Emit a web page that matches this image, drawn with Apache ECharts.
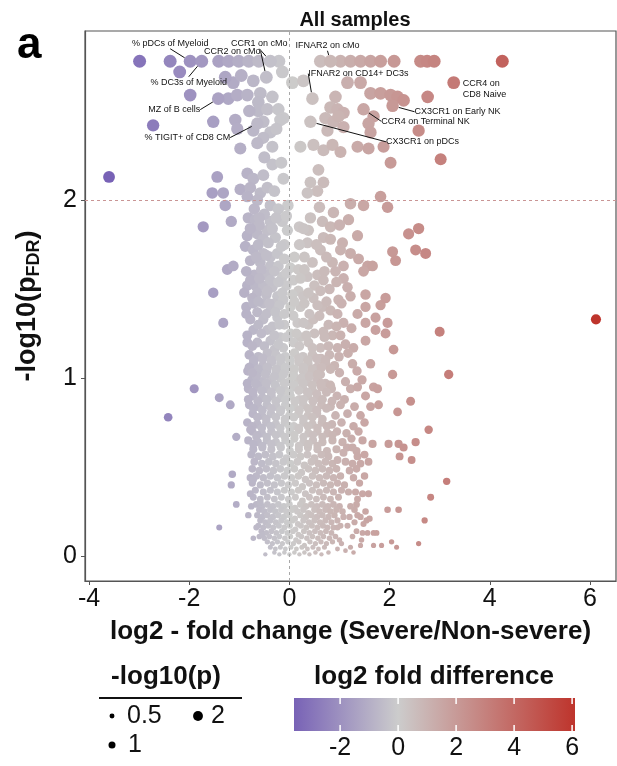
<!DOCTYPE html>
<html><head><meta charset="utf-8">
<script src="https://cdn.jsdelivr.net/npm/echarts@6/dist/echarts.min.js"></script>
<style>html,body{margin:0;padding:0;background:#fff}#c{width:617px;height:766px}</style>
</head><body><div id="c"></div>
<script>
// ---------------- DATA (log2 fold change, -log10 pFDR) ----------------
const topRow = [[-2.99,2.78],[-2.38,2.78],[-1.41,2.78],[-1.21,2.78],[-1.01,2.78],[-0.81,2.78],[-0.61,2.78],[-0.21,2.78],
  [0.62,2.78],[1.02,2.78],[1.22,2.78],[1.42,2.78],[1.62,2.78],[1.82,2.78],[2.09,2.78],[2.62,2.78],[2.75,2.78],[2.89,2.78],[4.25,2.78]];

const upperPoints = [[-2.19,2.72],[-0.14,2.72],[-1.12,2.66],[0.06,2.66],[0.28,2.67],[1.16,2.66],[1.42,2.66],
  [-1.28,2.69],[-0.96,2.7],[-0.72,2.67],
  [-1.98,2.59],[-1.22,2.57],[-1.04,2.59],[-0.84,2.59],[-0.58,2.6],[-0.34,2.58],[0.92,2.58],[1.62,2.6],[1.82,2.6],[2.02,2.59],[2.16,2.58],[2.28,2.56],[2.76,2.58],
  [-0.62,2.55],[-0.62,2.5],[-0.44,2.51],[-0.22,2.51],[-0.12,2.46],[0.82,2.52],[0.96,2.51],[1.08,2.49],[1.68,2.47],
  [-2.72,2.42],[-1.52,2.44],[-1.08,2.45],[-1.04,2.4],[-0.52,2.44],[-0.18,2.45],[-0.72,2.39],[-0.38,2.38],[0.72,2.46],[0.88,2.44],[0.98,2.47],[0.76,2.39],[1.08,2.41],[1.58,2.43],[1.62,2.38],[2.58,2.39],
  [-0.52,2.35],[-0.98,2.29],[-0.64,2.32],[-0.34,2.3],[0.22,2.3],[0.48,2.31],[0.68,2.28],[0.86,2.31],[1.02,2.27],[1.36,2.3],[1.58,2.29],[1.88,2.3],[3.02,2.23],
  [-0.84,2.15],[-0.72,2.12],[-0.52,2.14],[-0.34,2.2],[-0.16,2.21],[-1.44,2.13],[2.02,2.21],[0.58,2.17],
  [-0.98,2.06],[-0.78,2.07],[-0.58,2.04],[-0.44,2.07],[-0.38,1.97],[-0.64,2.0],[-0.84,2.02],[-0.03,1.97],[-1.54,2.04],[-1.32,2.04],[-1.28,1.97],
  [0.42,2.1],[0.68,2.1],[0.56,2.05],[0.36,2.04],[1.82,2.02],[1.96,1.96],[1.22,1.98],[1.48,1.97],
  [-0.26,2.4],[-0.8,2.5],[-0.3,2.05],[-0.12,2.12],[-0.5,2.24]];

const middlePoints = [[-1.72,1.85],[-1.16,1.88],[-0.82,1.9],[-0.68,1.89],[-0.38,1.88],[-0.14,1.88],[-0.84,1.8],[-0.64,1.81],[-0.44,1.83],[-0.52,1.78],[-0.28,1.79],
  [0.88,1.93],[1.18,1.89],[0.42,1.9],[0.38,1.83],[0.66,1.88],[0.82,1.85],[0.68,1.79],[0.82,1.78],[1.06,1.76],[1.36,1.8],[0.36,1.76],[2.38,1.81],[2.58,1.84],
  [-0.88,1.74],[-0.72,1.72],[-0.52,1.7],[-0.38,1.68],[-0.78,1.66],[-0.58,1.65],[-0.38,1.63],[-0.22,1.63],[0.02,1.62],[0.18,1.61],[-1.24,1.61],[-1.12,1.63],[-0.14,1.57],
  [1.02,1.72],[0.62,1.72],[0.46,1.65],[0.86,1.65],[1.08,1.63],[1.38,1.67],[1.56,1.63],[1.66,1.63],[1.48,1.6],[2.06,1.71],[2.12,1.66],[2.52,1.72],[2.72,1.7],[0.36,1.57],
  [-0.7,1.95],[-0.5,1.92],[-0.22,1.95],[-0.6,1.86],[-0.24,1.7],[-0.1,1.75],[-0.46,1.58],[-0.7,1.58],[0.1,1.68],[0.56,1.58],[0.92,1.6],[0.6,1.96],[1.0,1.86],[0.2,1.85],[0.54,1.75],[1.22,1.7],
  [-0.84,1.52],[-0.68,1.52],[-0.52,1.52],[-0.34,1.51],[-0.24,1.46],[-0.64,1.48],[-0.52,1.42],[-0.38,1.38],[-0.64,1.37],[-0.78,1.33],[-0.52,1.33],[-0.24,1.34],[-1.52,1.48],[-1.32,1.31],
  [0.18,1.49],[0.28,1.46],[0.16,1.31],[0.38,1.3],[0.02,1.4],[-0.84,1.2],[-0.64,1.2],[-0.38,1.21],[-0.18,1.23],[0.02,1.25],[-0.12,1.17],
  [1.08,1.56],[1.16,1.51],[1.22,1.46],[1.52,1.47],[1.52,1.4],[1.82,1.41],[1.92,1.45],[0.48,1.45],[0.66,1.4],[0.82,1.38],[0.22,1.4],[1.08,1.31],[1.52,1.31],[1.72,1.34],[1.96,1.31],
  [1.72,1.27],[1.92,1.25],[1.52,1.21],[2.08,1.16],[3.0,1.26],[0.48,1.33],[0.68,1.26],[0.22,1.23],[0.62,1.17],[0.96,1.17],[1.28,1.17],
  [-0.74,1.45],[-0.46,1.47],[-0.3,1.42],[-0.12,1.44],[-0.06,1.52],[-0.72,1.27],[-0.44,1.27],[-0.1,1.3],[-0.86,1.4],[0.08,1.2],[-0.3,1.16],[0.38,1.2],[0.5,1.25],[0.86,1.24],[1.24,1.28],[0.98,1.44],[0.8,1.5],[0.5,1.52],[1.36,1.36]];

const middleFill = [[-0.6,1.9],[-0.26,1.9],[-0.06,1.91],
  [-0.78,1.84],[-0.34,1.84],[-0.04,1.83],[0.28,1.84],
  [-0.62,1.75],[-0.42,1.76],[-0.16,1.74],[0.2,1.75],
  [-0.66,1.68],[-0.46,1.69],[-0.1,1.67],[0.3,1.68],[0.74,1.68],
  [-0.86,1.6],[-0.56,1.61],[-0.3,1.6],[-0.06,1.59],[0.3,1.61],[0.7,1.6],
  [-0.78,1.55],[-0.6,1.56],[-0.38,1.55],[-0.22,1.54],[0.08,1.55],[0.22,1.56],[0.68,1.55],[0.94,1.54],
  [-0.9,1.48],[-0.44,1.49],[-0.14,1.48],[0.06,1.47],[0.38,1.48],[0.62,1.49],
  [-0.72,1.42],[-0.62,1.43],[-0.4,1.42],[-0.2,1.41],[0.1,1.43],[0.3,1.42],[0.56,1.41],[0.74,1.43],[1.04,1.42],
  [-0.86,1.36],[-0.46,1.36],[-0.28,1.37],[-0.1,1.36],[0.08,1.35],[0.4,1.36],[0.6,1.35],[0.96,1.36],
  [-0.62,1.3],[-0.34,1.29],[-0.2,1.3],[0.28,1.31],[0.78,1.3],[0.94,1.29],
  [-0.84,1.24],[-0.56,1.25],[-0.3,1.24],[-0.06,1.23],[0.14,1.25],[0.34,1.24],[0.7,1.23],[1.02,1.24],
  [-0.74,1.18],[-0.5,1.18],[-0.22,1.19],[0.2,1.18],[0.46,1.17],[0.78,1.18],[1.12,1.19]];

const corePoints = [[-0.8,1.13],[-0.62,1.12],[-0.44,1.14],[-0.27,1.13],[-0.08,1.12],[0.1,1.14],[0.27,1.12],[0.46,1.13],[0.63,1.11],[0.8,1.13],[0.99,1.12],[1.17,1.14],
  [-0.72,1.08],[-0.53,1.07],[-0.35,1.09],[-0.17,1.08],[0.01,1.07],[0.19,1.09],[0.37,1.08],[0.55,1.06],[0.72,1.08],[0.9,1.07],[1.26,1.08],
  [-0.83,1.04],[-0.62,1.03],[-0.45,1.04],[-0.26,1.03],[-0.09,1.04],[0.08,1.02],[0.28,1.04],[0.45,1.03],[0.62,1.02],[1.0,1.03],[1.35,1.04],
  [-0.75,0.99],[-0.55,0.98],[-0.36,0.99],[-0.18,1.0],[0.0,0.98],[0.18,0.99],[0.36,0.98],[0.55,0.99],[0.72,0.97],[1.12,0.98],[1.45,0.99],
  [-0.82,0.94],[-0.64,0.95],[-0.46,0.94],[-0.27,0.95],[-0.09,0.93],[0.1,0.95],[0.27,0.94],[0.46,0.93],[0.64,0.95],[0.84,0.94],[1.22,0.94],[1.36,0.95],
  [-0.72,0.9],[-0.54,0.89],[-0.36,0.9],[-0.17,0.89],[0.02,0.9],[0.2,0.88],[0.37,0.9],[0.56,0.89],[0.95,0.9],[1.1,0.88],[1.52,0.9],
  [-0.8,0.85],[-0.63,0.84],[-0.45,0.85],[-0.26,0.84],[-0.08,0.85],[0.1,0.84],[0.28,0.85],[0.46,0.83],[0.64,0.85],[0.82,0.84],[1.02,0.85],[1.3,0.84],
  [-0.73,0.8],[-0.55,0.79],[-0.37,0.8],[-0.18,0.81],[0.0,0.79],[0.18,0.8],[0.37,0.79],[0.55,0.8],[0.92,0.79],[1.16,0.8],[1.42,0.79],
  [-0.84,0.75],[-0.64,0.74],[-0.46,0.75],[-0.27,0.74],[-0.09,0.75],[0.09,0.73],[0.28,0.75],[0.46,0.74],[0.65,0.75],[0.85,0.74],[1.04,0.75],[1.28,0.73],[1.5,0.75],
  [-0.74,0.7],[-0.55,0.69],[-0.36,0.7],[-0.18,0.69],[0.01,0.7],[0.19,0.71],[0.38,0.69],[0.56,0.7],[0.76,0.69],[0.95,0.7],[1.14,0.69],[1.38,0.7],
  [-0.82,0.65],[-0.63,0.64],[-0.45,0.65],[-0.27,0.64],[-0.08,0.65],[0.1,0.66],[0.28,0.64],[0.47,0.65],[0.66,0.64],[0.86,0.65],[1.06,0.64],[1.24,0.66],[1.46,0.65],
  [-0.72,0.6],[-0.54,0.61],[-0.36,0.6],[-0.17,0.61],[0.01,0.59],[0.19,0.6],[0.37,0.61],[0.56,0.6],[0.75,0.59],[0.94,0.6],[1.15,0.61],[1.34,0.59]];

const coreFill = [[-0.71,1.1],[-0.53,1.11],[-0.36,1.1],[-0.18,1.11],[0.01,1.1],[0.19,1.11],[0.37,1.1],[0.55,1.11],[0.72,1.1],
  [-0.8,1.06],[-0.62,1.05],[-0.44,1.06],[-0.26,1.05],[-0.08,1.06],[0.1,1.05],[0.28,1.06],[0.46,1.05],[0.64,1.06],[0.82,1.05],
  [-0.66,1.01],[-0.48,1.02],[-0.3,1.01],[-0.12,1.02],[0.06,1.01],[0.24,1.0],[0.4,1.01],[0.56,1.02],
  [-0.84,0.97],[-0.64,0.96],[-0.46,0.97],[-0.28,0.96],[-0.1,0.97],[0.09,0.96],[0.27,0.97],[0.46,0.96],[0.63,0.97],[0.82,0.96],
  [-0.73,0.92],[-0.55,0.93],[-0.36,0.92],[-0.18,0.93],[0.0,0.92],[0.19,0.93],[0.36,0.92],[0.55,0.91],[0.74,0.92],
  [-0.82,0.88],[-0.63,0.87],[-0.45,0.88],[-0.27,0.87],[-0.08,0.88],[0.11,0.87],[0.28,0.88],[0.47,0.87],[0.66,0.88],[0.85,0.87],
  [-0.72,0.83],[-0.54,0.82],[-0.36,0.83],[-0.17,0.82],[0.01,0.83],[0.2,0.82],[0.37,0.83],[0.55,0.82],[0.74,0.83],
  [-0.64,0.78],[-0.46,0.77],[-0.27,0.78],[-0.09,0.77],[0.09,0.78],[0.28,0.77],[0.46,0.78],[0.66,0.77],
  [-0.74,0.73],[-0.55,0.72],[-0.37,0.73],[-0.18,0.72],[0.0,0.73],[0.19,0.72],[0.37,0.73],[0.56,0.72],[0.75,0.73],
  [-0.64,0.68],[-0.45,0.67],[-0.27,0.68],[-0.09,0.67],[0.1,0.68],[0.28,0.67],[0.47,0.68],[0.66,0.67],[0.86,0.68],
  [-0.72,0.63],[-0.54,0.62],[-0.36,0.63],[-0.18,0.62],[0.01,0.63],[0.19,0.62],[0.38,0.63],[0.56,0.62]];

const lowerPoints = [[-0.76,0.57],[-0.62,0.56],[-0.48,0.57],[-0.33,0.56],[-0.2,0.57],[-0.06,0.55],[0.08,0.57],[0.22,0.56],[0.36,0.57],[0.5,0.55],[0.64,0.57],[0.78,0.56],[1.36,0.56],[1.5,0.57],
  [-0.7,0.53],[-0.55,0.52],[-0.41,0.53],[-0.27,0.52],[-0.12,0.53],[0.02,0.52],[0.16,0.53],[0.3,0.51],[0.44,0.53],[0.58,0.52],[0.72,0.53],[0.86,0.52],[1.12,0.53],[1.42,0.52],
  [-0.74,0.49],[-0.6,0.48],[-0.46,0.49],[-0.32,0.48],[-0.18,0.49],[-0.04,0.48],[0.1,0.49],[0.24,0.47],[0.38,0.49],[0.52,0.48],[0.66,0.49],[0.8,0.48],[0.94,0.49],[1.2,0.48],[1.34,0.49],
  [-0.66,0.45],[-0.52,0.44],[-0.38,0.45],[-0.24,0.44],[-0.1,0.45],[0.04,0.44],[0.18,0.45],[0.32,0.43],[0.46,0.45],[0.6,0.44],[0.74,0.45],[0.88,0.44],[1.02,0.45],[1.28,0.44],[1.5,0.45],
  [-0.74,0.41],[-0.58,0.4],[-0.44,0.41],[-0.3,0.4],[-0.16,0.41],[-0.02,0.4],[0.12,0.41],[0.26,0.39],[0.4,0.41],[0.54,0.4],[0.68,0.41],[0.82,0.4],[0.96,0.41],[1.1,0.4],[1.4,0.41],
  [-0.68,0.37],[-0.52,0.36],[-0.38,0.37],[-0.24,0.36],[-0.1,0.37],[0.04,0.36],[0.18,0.37],[0.32,0.35],[0.46,0.37],[0.6,0.36],[0.74,0.37],[0.88,0.36],[1.04,0.37],[1.18,0.36],
  [-0.72,0.33],[-0.58,0.32],[-0.44,0.33],[-0.3,0.32],[-0.16,0.33],[-0.02,0.32],[0.12,0.33],[0.26,0.31],[0.4,0.33],[0.54,0.32],[0.68,0.33],[0.82,0.32],[0.98,0.33],[1.36,0.32]];

const bottomPoints = [[-0.66,0.29],[-0.55,0.28],[-0.44,0.29],[-0.33,0.28],[-0.22,0.29],[-0.11,0.28],[0.0,0.29],[0.11,0.27],[0.22,0.29],[0.33,0.28],[0.44,0.29],[0.55,0.28],[0.66,0.29],[0.77,0.28],[0.88,0.29],[1.0,0.28],[1.34,0.29],
  [-0.6,0.26],[-0.5,0.25],[-0.38,0.26],[-0.28,0.25],[-0.16,0.26],[-0.06,0.25],[0.06,0.26],[0.16,0.25],[0.28,0.26],[0.38,0.24],[0.5,0.26],[0.6,0.25],[0.72,0.26],[0.82,0.25],[0.94,0.26],[1.06,0.25],[1.3,0.26],[1.52,0.25],
  [-0.64,0.23],[-0.54,0.22],[-0.44,0.23],[-0.33,0.22],[-0.22,0.23],[-0.11,0.22],[0.0,0.23],[0.11,0.21],[0.22,0.23],[0.33,0.22],[0.44,0.23],[0.55,0.22],[0.66,0.23],[0.78,0.22],[0.9,0.23],[1.2,0.22],[1.36,0.23],
  [-0.58,0.2],[-0.48,0.19],[-0.38,0.2],[-0.27,0.19],[-0.16,0.2],[-0.05,0.19],[0.06,0.2],[0.17,0.18],[0.28,0.2],[0.39,0.19],[0.5,0.2],[0.61,0.19],[0.72,0.2],[0.84,0.19],[0.96,0.2],[1.3,0.19],[1.54,0.2],
  [-0.62,0.17],[-0.52,0.16],[-0.42,0.17],[-0.32,0.16],[-0.21,0.17],[-0.1,0.16],[0.01,0.17],[0.12,0.15],[0.23,0.17],[0.34,0.16],[0.45,0.17],[0.56,0.16],[0.67,0.17],[0.88,0.16],[1.02,0.17],
  [-0.56,0.14],[-0.46,0.13],[-0.36,0.14],[-0.26,0.13],[-0.15,0.14],[-0.04,0.13],[0.07,0.14],[0.18,0.12],[0.29,0.14],[0.4,0.13],[0.51,0.14],[0.62,0.13],[0.73,0.14],[0.84,0.13],[1.34,0.14],[1.56,0.13],
  [-0.6,0.11],[-0.5,0.1],[-0.4,0.11],[-0.3,0.1],[-0.2,0.11],[-0.09,0.1],[0.02,0.11],[0.13,0.09],[0.24,0.11],[0.35,0.1],[0.46,0.11],[0.57,0.1],[0.68,0.11],[0.8,0.1],[0.92,0.11],[1.0,0.09],
  [-0.44,0.08],[-0.34,0.07],[-0.24,0.08],[-0.14,0.07],[-0.03,0.08],[0.08,0.07],[0.19,0.08],[0.3,0.06],[0.41,0.08],[0.52,0.07],[0.63,0.08],[0.74,0.07],[0.86,0.08],[1.04,0.07],
  [-0.38,0.05],[-0.28,0.04],[-0.18,0.05],[-0.08,0.04],[0.03,0.05],[0.14,0.04],[0.25,0.05],[0.36,0.04],[0.47,0.05],[0.58,0.04],[0.7,0.05],[0.96,0.04],
  [-0.3,0.02],[-0.2,0.01],[-0.1,0.02],[0.0,0.01],[0.1,0.02],[0.2,0.01],[0.3,0.02],[0.4,0.01],[0.52,0.02],[0.64,0.01],[0.78,0.02]];

const outliers = [[-3.6,2.13],[6.12,1.33],
  [-1.9,0.94],[-2.42,0.78],[-1.4,0.89],[-1.18,0.85],[-1.06,0.67],[-0.74,1.03],[-0.68,0.97],[-0.78,0.71],[-0.66,0.67],
  [2.06,1.02],[3.18,1.02],[1.62,1.08],[1.68,0.95],[1.76,0.94],[1.62,0.84],[1.78,0.85],[2.16,0.81],[2.42,0.87],[2.78,0.71],
  [1.66,0.63],[1.98,0.63],[2.18,0.63],[2.28,0.61],[2.52,0.64],[2.2,0.56],[2.44,0.54],[1.58,0.53],[1.26,0.61],[1.26,0.52],[1.08,0.58],[0.96,0.54],
  [-1.14,0.46],[-1.16,0.4],[-1.06,0.29],[-1.4,0.16],[-0.78,0.44],[-0.72,0.43],[-0.78,0.35],[-0.58,0.3],[-0.82,0.23],[-0.76,0.28],[-0.66,0.16],[-0.54,0.12],[-0.72,0.1],[-0.48,0.01],
  [3.14,0.42],[2.82,0.33],[2.7,0.2],[2.58,0.07],[1.32,0.36],[1.46,0.35],[1.58,0.35],[1.22,0.28],[1.96,0.26],[2.18,0.26],[1.42,0.22],[1.48,0.18],[1.6,0.21],[1.68,0.13],[1.46,0.13],
  [1.08,0.22],[1.16,0.17],[1.26,0.11],[0.96,0.16],[0.76,0.16],[1.68,0.06],[1.84,0.06],[2.04,0.08],[2.14,0.05],[1.22,0.05],[1.12,0.03],[1.28,0.02],[1.42,0.06],[1.74,0.13],[1.44,0.09]];

const annotatedNames = ['% pDCs of Myeloid','% DC3s of Myeloid','CCR2 on cMo','CCR1 on cMo','MZ of B cells','% TIGIT+ of CD8 CM',
  'IFNAR2 on cMo','IFNAR2 on CD14+ DC3s','CCR4 on\nCD8 Naive','CX3CR1 on Early NK','CCR4 on Terminal NK','CX3CR1 on pDCs'];
const annotatedFC = [-1.98,-1.75,-0.46,-0.38,-1.42,-0.64,0.82,0.46,3.28,2.06,1.48,0.42];
const annotatedP  = [2.78,2.78,2.69,2.78,2.57,2.43,2.78,2.57,2.66,2.53,2.51,2.44];

const xTicks = [-4,-2,0,2,4,6];
const yTicks = [0,1,2];
const colorbarTicks = [-2,0,2,4,6];
const sizeLegendValues = [0.5,1,2];

// ---------------- STYLE / LAYOUT ----------------
const FONT = '"Liberation Sans", Arial, Helvetica, sans-serif';
const labelOffsets = [[-20,-18],[-13,21],[-34,-26],[-11,-18],[-44,11],[-70,14],[-3,-16],[46,-25],[9,6],[65,6],[62,12],[112,20]];
const FC_MIN = -3.59, FC_MAX = 6.1;
const cLow = [120,98,182], cMid = [204,204,204], cHigh = [190,52,44];
function fcColor(v){
  let b, t;
  if (v < 0) { b = cLow; t = Math.min(1, v / FC_MIN); } else { b = cHigh; t = Math.min(1, v / FC_MAX); }
  const c = cMid.map((q,i)=>Math.round(q + (b[i]-q)*t));
  return 'rgb(' + c.join(',') + ')';
}
function pointSize(y){ return 3.8 + 5.5*Math.sqrt(Math.max(y,0)); }
function legendDot(v){ return 7*Math.sqrt(v); }

const allPoints = [].concat(topRow, upperPoints, middlePoints, middleFill, corePoints, coreFill, lowerPoints, bottomPoints, outliers);
const annotated = annotatedNames.map((n,i)=>{
  const item = {name:n, value:[annotatedFC[i], annotatedP[i]]};
  if (i === 8) { item.label = {align:'left'}; item.labelLine = {show:false}; }
  return item;
});

const chart = echarts.init(document.getElementById('c'), null, {renderer:'canvas'});

const legendGraphics = [
  {type:'text', x:166, y:677, style:{text:'-log10(p)', align:'center', verticalAlign:'middle', font:'bold 26px '+FONT, fill:'#111'}},
  {type:'line', shape:{x1:99, y1:698, x2:242, y2:698}, style:{stroke:'#111', lineWidth:2}},
  {type:'text', x:434, y:677, style:{text:'log2 fold difference', align:'center', verticalAlign:'middle', font:'bold 26px '+FONT, fill:'#111'}},
  {type:'text', x:17, y:24, style:{text:'a', font:'bold 44px '+FONT, fill:'#000'}}
];
const legendPos = [[112,716],[112,745],[198,716]];
const legendTextGap = [15,16,13];
sizeLegendValues.forEach((v,i)=>{
  const p = legendPos[i];
  legendGraphics.push({type:'circle', shape:{cx:p[0], cy:p[1], r:legendDot(v)/2}, style:{fill:'#000'}});
  legendGraphics.push({type:'text', x:p[0]+legendTextGap[i], y:p[1], style:{text:String(v), verticalAlign:'middle', font:'25px '+FONT, fill:'#111'}});
});

const option = {
  animation:false,
  backgroundColor:'#fff',
  title:{text:'All samples', left:350, top:5, textAlign:'center', textStyle:{fontSize:20, fontWeight:'bold', color:'#111', fontFamily:FONT}},
  graphic: legendGraphics,
  grid:[
    {left:85, right:1, top:31, bottom:185, show:true, borderColor:'#555', borderWidth:1.2, backgroundColor:'transparent'},
    {left:294, width:281, top:698, height:33}
  ],
  xAxis:[
    {type:'value', gridIndex:0, min:-4.08, max:6.52,
     name:'log2 - fold change (Severe/Non-severe)', nameLocation:'middle', nameGap:38,
     nameTextStyle:{fontSize:26, fontWeight:'bold', color:'#111', fontFamily:FONT},
     axisLine:{show:true, onZero:false, lineStyle:{color:'#555', width:1.2}},
     axisTick:{show:true, customValues:xTicks, length:4, lineStyle:{color:'#555'}},
     axisLabel:{customValues:xTicks, fontSize:25, color:'#111', fontFamily:FONT, margin:6},
     splitLine:{show:false}},
    {type:'value', gridIndex:1, min:FC_MIN, max:FC_MAX,
     axisLine:{show:false}, axisTick:{show:false}, splitLine:{show:false},
     axisLabel:{customValues:colorbarTicks, fontSize:25, color:'#111', fontFamily:FONT, margin:5}}
  ],
  yAxis:[
    {type:'value', gridIndex:0, min:-0.14, max:2.95,
     name:'-log10(p{s|FDR})', nameLocation:'middle', nameGap:42, nameRotate:90,
     nameTextStyle:{fontSize:27, fontWeight:'bold', color:'#111', fontFamily:FONT, lineHeight:30,
       rich:{s:{fontSize:18, fontWeight:'bold', color:'#111', fontFamily:FONT, verticalAlign:'bottom', lineHeight:12}}},
     axisLine:{show:true, onZero:false, lineStyle:{color:'#555', width:1.2}},
     axisTick:{show:true, customValues:yTicks, length:4, lineStyle:{color:'#555'}},
     axisLabel:{customValues:yTicks, fontSize:25, color:'#111', fontFamily:FONT, margin:8},
     splitLine:{show:false}},
    {type:'value', gridIndex:1, min:0, max:1, show:false}
  ],
  series:[
    {type:'scatter', xAxisIndex:0, yAxisIndex:0, z:1, silent:true, data:[], symbolSize:0,
     markLine:{silent:true, symbol:['none','none'], label:{show:false},
       lineStyle:{type:[3,3], width:1},
       data:[{yAxis:2, lineStyle:{color:'#c99595', type:[3,3], width:1}},
             {xAxis:0, lineStyle:{color:'#a8a8a8', type:[3,3], width:1}}]}},
    {type:'scatter', xAxisIndex:0, yAxisIndex:0, z:2, silent:true, data:allPoints,
     symbol:'circle', symbolSize:(val)=>pointSize(val[1]),
     itemStyle:{color:(p)=>fcColor(p.value[0]), opacity:1}},
    {type:'scatter', xAxisIndex:0, yAxisIndex:0, z:3, silent:true, data:annotated,
     symbol:'circle', symbolSize:(val)=>pointSize(val[1]),
     itemStyle:{color:(p)=>fcColor(p.value[0]), opacity:1},
     label:{show:true, position:'inside', formatter:'{b}', fontSize:9, color:'#111', fontFamily:FONT, lineHeight:11},
     labelLine:{show:true, lineStyle:{color:'#111', width:1}},
     labelLayout:(params)=>{ const o = labelOffsets[params.dataIndex]; return {dx:o[0], dy:o[1]}; }},
    {type:'custom', xAxisIndex:1, yAxisIndex:1, silent:true, data:[[0,0]],
     renderItem:(params, api)=>{
       const p0 = api.coord([FC_MIN,0]), p1 = api.coord([FC_MAX,1]);
       const x0=p0[0], x1=p1[0], yb=p0[1], yt=p1[1];
       const mid = (0-FC_MIN)/(FC_MAX-FC_MIN);
       const children = [{type:'rect', shape:{x:x0, y:yt, width:x1-x0, height:yb-yt},
         style:{fill:new echarts.graphic.LinearGradient(0,0,1,0,[
           {offset:0, color:fcColor(FC_MIN)},{offset:mid, color:fcColor(0)},{offset:1, color:fcColor(FC_MAX)}])}}];
       colorbarTicks.forEach(v=>{
         const x = api.coord([v,0])[0];
         children.push({type:'line', shape:{x1:x,y1:yt,x2:x,y2:yt+6}, style:{stroke:'#fff', lineWidth:1.5}});
         children.push({type:'line', shape:{x1:x,y1:yb-6,x2:x,y2:yb}, style:{stroke:'#fff', lineWidth:1.5}});
       });
       return {type:'group', children};
     }}
  ]
};
chart.setOption(option);
</script>
</body></html>
